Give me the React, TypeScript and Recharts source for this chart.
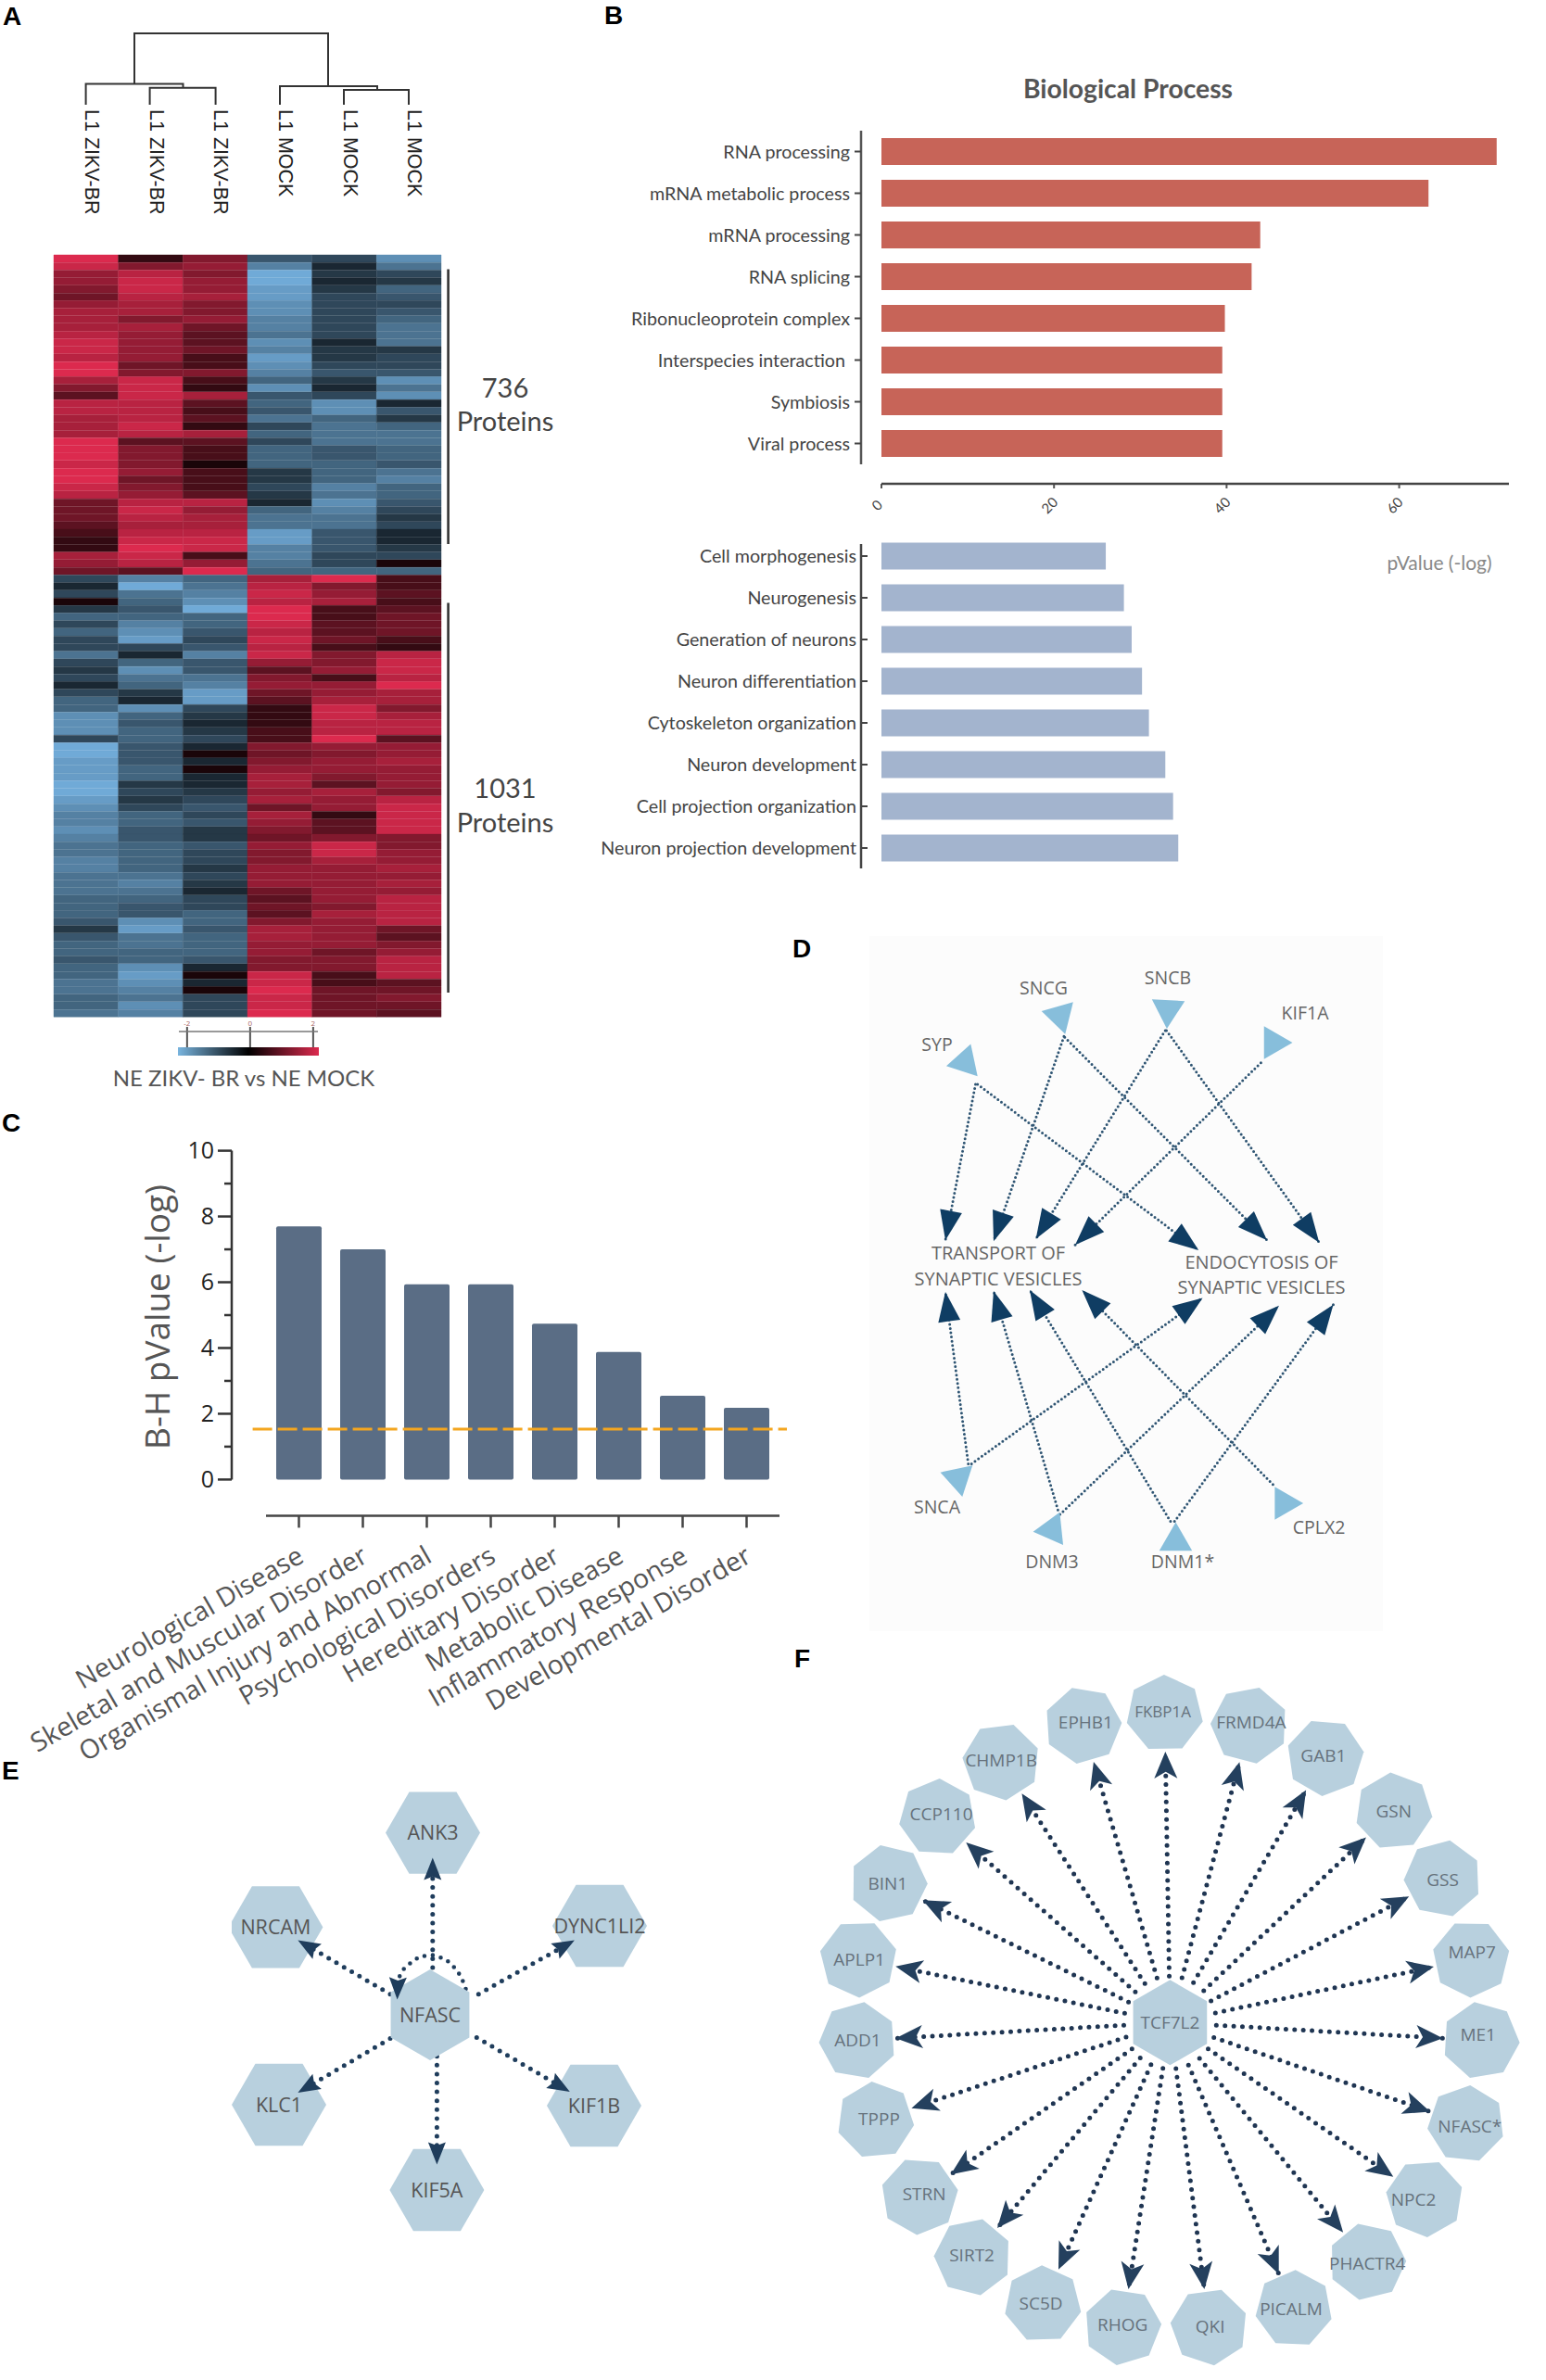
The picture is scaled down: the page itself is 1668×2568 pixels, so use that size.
import React from "react";
import {
  Bar,
  BarChart,
  Cell,
  ComposedChart,
  Line,
  ReferenceLine,
  Scatter,
  XAxis,
  YAxis,
} from "recharts";

const SANS = "'Open Sans', sans-serif";
const LATO = "Lato, sans-serif";
const ARIAL = "'Liberation Sans', Arial, sans-serif";

// panel A, one list per sample, top row first (-10 bright blue .. 10 bright red)
const zikv1 = [10,9,6,6,5,4,6,7,7,7,8,9,9,8,10,10,7,5,3,8,8,7,7,7,10,10,10,9,10,10,9,8,4,4,4,3,2,1,1,7,6,4,
  -3,-1,-3,0,-2,-5,-3,-5,-3,-3,-6,-3,-2,-3,-1,-3,-5,-5,-8,-8,-8,-3,-10,-10,-9,-9,-9,-10,-10,-9,-8,-7,-7,-8,-7,-6,-6,-7,-7,-6,-6,-6,-5,-5,-5,-4,-2,-4,-5,-5,-4,-5,-5,-6,-6,-5,-5,-6];
const zikv2 = [1,5,8,9,9,8,7,7,5,7,6,6,6,6,4,5,9,9,9,8,8,8,9,8,3,5,5,5,6,4,5,6,8,9,8,7,8,9,10,9,8,3,
  -7,-10,-6,-5,-4,-5,-7,-8,-9,-3,-1,-5,-8,-6,-5,-2,-1,-8,-5,-4,-5,-5,-4,-4,-4,-5,-5,-2,-3,-2,-3,-5,-5,-4,-4,-5,-5,-5,-5,-6,-7,-6,-5,-4,-4,-8,-9,-6,-6,-5,-5,-8,-9,-8,-7,-6,-8,-7];
const zikv3 = [5,6,5,6,6,7,5,5,6,4,3,3,4,2,2,5,2,1,7,3,2,3,1,7,3,2,2,0,2,2,2,3,8,6,7,7,8,9,9,2,6,10,
  -5,-6,-7,-8,-10,-5,-5,-4,-3,-4,-7,-4,-4,-6,-7,-9,-9,-3,-2,-1,-2,-3,-1,0,-1,0,-1,-1,-2,-3,-4,-3,-4,-2,-2,-4,-3,-3,-2,-3,-2,-1,-3,-3,-5,-5,-4,-5,-5,-5,-4,-1,0,-1,0,-3,-3,-3];
const mock1 = [-4,-7,-10,-10,-9,-9,-8,-8,-7,-7,-6,-8,-7,-9,-8,-7,-5,-8,-4,-5,-4,-6,-3,-5,-3,-5,-5,-5,-2,-2,-3,-2,-1,-5,-6,-6,-9,-9,-7,-7,-6,-5,
  7,8,9,8,10,10,9,8,9,8,9,6,3,5,6,4,3,1,1,1,2,2,5,4,5,6,7,7,6,7,4,7,6,5,4,6,5,5,6,6,6,4,3,4,3,5,7,7,6,6,5,5,9,9,10,9,9,10];
const mock2 = [-3,-1,-2,-1,-2,-3,-3,-3,-3,-3,-3,-1,-2,-2,-3,-4,-2,-1,-3,-8,-8,-5,-6,-6,-6,-4,-4,-5,-5,-5,-7,-6,-8,-7,-6,-6,-4,-4,-4,-3,-3,-5,
  10,5,6,7,2,2,3,3,4,2,5,5,6,2,6,6,7,9,9,8,8,10,6,5,6,6,5,3,7,6,6,1,3,3,5,9,9,7,6,6,6,6,6,5,7,6,6,6,6,4,5,5,2,2,4,4,4,4];
const mock3 = [-8,-6,-3,-2,-5,-4,-3,-4,-5,-6,-6,-6,-2,-3,-3,-4,-8,-6,-8,-1,-4,-2,-5,-6,-6,-5,-5,-4,-6,-7,-5,-5,-4,-3,-2,-3,-1,-1,-2,-3,0,-5,
  2,2,3,2,3,4,4,4,2,1,8,9,9,8,10,7,7,5,7,8,8,3,6,6,7,6,6,6,5,8,9,9,9,9,5,5,6,6,7,6,7,6,8,8,8,8,4,3,5,6,8,8,8,3,4,5,4,3];

const heatColumns = [zikv1, zikv2, zikv3, mock1, mock2, mock3];
const sampleLabels = ["L1 ZIKV-BR", "L1 ZIKV-BR", "L1 ZIKV-BR", "L1 MOCK", "L1 MOCK", "L1 MOCK"];
const sampleTicks = [0.5, 1.5, 2.5, 3.5, 4.5, 5.5];

// panel B
const upTerms = ["RNA processing", "mRNA metabolic process", "mRNA processing", "RNA splicing", "Ribonucleoprotein complex", "Interspecies interaction", "Symbiosis", "Viral process"];
const upValues = [71.3, 63.4, 43.9, 42.9, 39.8, 39.5, 39.5, 39.5];
const downTerms = ["Cell morphogenesis", "Neurogenesis", "Generation of neurons", "Neuron differentiation", "Cytoskeleton organization", "Neuron development", "Cell projection organization", "Neuron projection development"];
const downValues = [26, 28.1, 29, 30.2, 31, 32.9, 33.8, 34.4];
const pTicks = [0, 20, 40, 60];

// panel C
const diseases = ["Neurological Disease", "Skeletal and Muscular Disorder", "Organismal Injury and Abnormal", "Psychological Disorders", "Hereditary Disorder", "Metabolic Disease", "Inflammatory Response", "Developmental Disorder"];
const diseaseValues = [7.7, 7.0, 5.94, 5.94, 4.74, 3.88, 2.55, 2.18];
const bhTicks = [0, 1, 2, 3, 4, 5, 6, 7, 8, 9, 10];
const bhThreshold = 1.53;

// panel D, read in picture pixels
const dGenes = ["SNCG", "SNCB", "KIF1A", "SYP", "SNCA", "DNM3", "DNM1*", "CPLX2"];
const dGeneX = [1143.6, 1260, 1374, 1041, 1034, 1135, 1268.5, 1385.6];
const dGeneY = [1096, 1089.5, 1125, 1146, 1595, 1650.5, 1663, 1622];
const dGeneTurn = [74, 93, 0, 48, -42, -66, -90, 0];
const dLabelX = [1126, 1260, 1408, 1011, 1011, 1135, 1276, 1423];
const dLabelY = [1066, 1055, 1093, 1127, 1626, 1685, 1685, 1648];
const dEdges = [
  [1052.5, 1170, 1020, 1338.2], [1054.7, 1170, 1293.2, 1349],
  [1147.9, 1118.3, 1072, 1339.2], [1148.8, 1119.3, 1367, 1338.2],
  [1257.2, 1111.9, 1117.6, 1336.7], [1258.5, 1111.9, 1423.3, 1340.7],
  [1360.4, 1146.7, 1160, 1343.2], [1044.7, 1579.4, 1020, 1393.9],
  [1048.2, 1579.4, 1297.5, 1400.4], [1141.4, 1629.2, 1072, 1392.9],
  [1143.6, 1634.1, 1380, 1408.8], [1262.9, 1641.6, 1111, 1391.9],
  [1267.2, 1641.6, 1438.5, 1407.8], [1373.4, 1601.8, 1167.4, 1391.9],
];

// panel E
const eGenes = ["ANK3", "NRCAM", "DYNC1LI2", "KLC1", "KIF1B", "KIF5A"];
const eGeneX = [467, 297.4, 647, 301, 641, 471.4];
const eGeneY = [1977.6, 2079.4, 2078, 2271, 2272, 2363];
const eEdges = [
  [466.8, 2123, 466.8, 2004.4], [421, 2151.7, 321.4, 2093.5],
  [516.3, 2151.7, 619.9, 2093.5], [421, 2199.6, 321.4, 2258],
  [514.3, 2198.4, 614.8, 2257], [471.4, 2218.7, 471.4, 2335.4],
];
const eLoopX = [502.5, 498, 492.3, 481, 466.8, 453, 443.9, 436, 431.1, 429, 428.6];
const eLoopY = [2146, 2134, 2125, 2114, 2109.6, 2111, 2117.3, 2124, 2132.6, 2145, 2157.5];

// panel F
const fGenes = ["FKBP1A", "FRMD4A", "GAB1", "GSN", "GSS", "MAP7", "ME1", "NFASC*", "NPC2", "PHACTR4", "PICALM", "QKI", "RHOG", "SC5D", "SIRT2", "STRN", "TPPP", "ADD1", "APLP1", "BIN1", "CCP110", "CHMP1B", "EPHB1"];
const fGeneX = [1256.6, 1347.9, 1429.8, 1503.7, 1556.5, 1587.1, 1597.7, 1581.8, 1537, 1475.2, 1396, 1304.6, 1211.2, 1125.1, 1049.6, 992.1, 944.5, 925.5, 926.1, 958.8, 1011.6, 1080.2, 1168.4];
const fGeneY = [1848.9, 1861.6, 1896.2, 1954.3, 2027, 2113.6, 2201.6, 2291.7, 2372.1, 2440.4, 2491.3, 2510.6, 2510.6, 2486.2, 2435.3, 2369.6, 2287.7, 2201.6, 2113.6, 2032.1, 1960.9, 1900.8, 1861.6];
const fLabelDx = [-2, 2, -2, 0, 0, 1, -3, 4, -12, 0, -3, 1, 0, -2, -1, 5, 4, 0, 1, -1, 4, 0, 3];
const fLabelDy = [-2, -3, -2, 0, 1, -7, -6, 3, 1, 2, 0, 0, -2, -1, -2, -2, -1, 0, 1, 0, -4, -1, -3];
const fHubX = 1262.4;
const fHubY = 2182.3;

// straight rules of the figure, in picture pixels: one polyline per list, x then y
const treeRules = [
  [92.6, 113, 92.6, 90.6, 197.5, 90.6, 197.5, 94.7],
  [161.6, 113, 161.6, 94.7, 232.6, 94.7, 232.6, 113],
  [302, 113, 302, 93, 407, 93, 407, 97],
  [371, 113, 371, 97, 441, 97, 441, 113],
  [145, 90.6, 145, 36, 354, 36, 354, 93],
];
const bracketRules = [[483.6, 290.6, 483.6, 587], [483.6, 650.6, 483.6, 1071]];
const axisRules = [[951, 522, 1628, 522], [929, 587, 929, 937], [287, 1635.6, 841, 1635.6]];
const scaleRules = [[193, 1113, 343, 1113]];

const heatRows = zikv1.map((_, i) => ({ row: i, c0: 1, c1: 1, c2: 1, c3: 1, c4: 1, c5: 1 }));
const upData = upTerms.map((term, i) => ({ term, value: upValues[i] }));
const downData = downTerms.map((term, i) => ({ term, value: downValues[i] }));
const diseaseData = diseases.map((name, i) => ({ name, value: diseaseValues[i] }));

const heatColor = (v: number) => {
  const t = 0.12 + 0.88 * Math.pow(Math.abs(v) / 10, 0.9);
  const base = v < 0 ? [112, 170, 215] : [220, 42, 78];
  return `rgb(${base.map((c) => Math.round(c * t)).join(",")})`;
};

const polygon = (cx: number, cy: number, r: number, sides: number, startDeg: number) =>
  Array.from({ length: sides }, (_, i) => {
    const a = ((startDeg + (i * 360) / sides) * Math.PI) / 180;
    return `${cx + r * Math.cos(a)},${cy + r * Math.sin(a)}`;
  }).join(" ");

const toPoints = (seg: number[]) => {
  const pts = [];
  for (let i = 0; i < seg.length; i += 2) pts.push({ x: seg[i], y: seg[i + 1] });
  return pts;
};

const toTip = (seg: number[]) => ({
  x: seg[2],
  y: seg[3],
  angle: (Math.atan2(seg[3] - seg[1], seg[2] - seg[0]) * 180) / Math.PI,
});

const arrowShape = (len: number, wid: number, notch: number, fill: string) => (props: any) => {
  const { cx, cy, payload } = props;
  return (
    <polygon
      points={`0,0 ${-len},${-wid / 2} ${-len * notch},0 ${-len},${wid / 2}`}
      transform={`translate(${cx},${cy}) rotate(${payload.angle})`}
      fill={fill}
    />
  );
};

const nodeShape = (r: number, sides: number, startDeg: number, fontSize: number, color: string) => (props: any) => {
  const { cx, cy, payload } = props;
  const turn = payload.turn ?? startDeg;
  return (
    <g>
      <polygon points={polygon(cx, cy, r, sides, turn)} fill="#B8D0DE" />
      <text
        x={cx + (payload.dx ?? 0)}
        y={cy + (payload.dy ?? 0)}
        dy=".35em"
        textAnchor="middle"
        fontFamily={SANS}
        fontSize={payload.small ? fontSize - 2 : fontSize}
        fill={color}
      >
        {payload.name}
      </text>
    </g>
  );
};

const triangleShape = (props: any) => {
  const { cx, cy, payload } = props;
  return <polygon points={polygon(cx, cy, 20.5, 3, payload.turn)} fill="#87BEDB" />;
};

const renderRules = (rules: number[][], name: string, stroke: string, strokeWidth: number) =>
  rules.map((seg, i) => (
    <Line
      key={`${name}-${i}`}
      data={toPoints(seg)}
      dataKey="y"
      stroke={stroke}
      strokeWidth={strokeWidth}
      dot={false}
      activeDot={false}
      legendType="none"
      isAnimationActive={false}
    />
  ));

const renderDots = (edges: number[][], name: string, stroke: string, width: number, gap: number) =>
  edges.map((seg, i) => (
    <Line
      key={`${name}-${i}`}
      data={toPoints(seg)}
      dataKey="y"
      stroke={stroke}
      strokeWidth={width}
      strokeLinecap="round"
      strokeDasharray={`0 ${gap}`}
      dot={false}
      activeDot={false}
      isAnimationActive={false}
    />
  ));

// pixel-space chart box: x/y domains equal the picture region it covers
function Region({ x, y, w, h, background, children }: any) {
  return (
    <div style={{ position: "absolute", left: x, top: y, background }}>
      <ComposedChart width={w} height={h} margin={{ top: 0, right: 0, bottom: 0, left: 0 }}>
        <XAxis type="number" dataKey="x" domain={[x, x + w]} allowDataOverflow hide />
        <YAxis type="number" dataKey="y" domain={[y, y + h]} allowDataOverflow reversed hide />
        {children}
      </ComposedChart>
    </div>
  );
}

function Heatmap() {
  const sampleTick = ({ x, index }: any) => (
    <text
      transform={`translate(${x - 1},118) rotate(90)`}
      fontFamily={ARIAL}
      fontSize={21.5}
      fill="#222"
    >
      {sampleLabels[index]}
    </text>
  );
  return (
    <div style={{ position: "absolute", left: 0, top: 0 }}>
      <BarChart
        width={500}
        height={1110}
        data={heatRows}
        layout="vertical"
        barCategoryGap={0}
        margin={{ top: 105, right: 24, bottom: 12.5, left: 58 }}
      >
        <XAxis
          type="number"
          orientation="top"
          domain={[0, 6]}
          ticks={sampleTicks}
          interval={0}
          height={170}
          axisLine={false}
          tickLine={false}
          tickSize={0}
          tick={sampleTick}
        />
        <YAxis type="category" dataKey="row" hide />
        {heatColumns.map((col, c) => (
          <Bar key={c} dataKey={`c${c}`} stackId="heat" isAnimationActive={false}>
            {col.map((v, r) => (
              <Cell key={r} fill={heatColor(v)} stroke={heatColor(v)} strokeWidth={0.4} />
            ))}
          </Bar>
        ))}
      </BarChart>
    </div>
  );
}

function HeatScale() {
  return (
    <div style={{ position: "absolute", left: 150, top: 1090 }}>
      <BarChart
        width={240}
        height={60}
        data={[{ name: "scale", span: [-2.29, 2.18] }]}
        layout="vertical"
        barCategoryGap={0}
        margin={{ top: 0, right: 46, bottom: 11, left: 42 }}
      >
        <defs>
          <linearGradient id="heatScale" x1="0" y1="0" x2="1" y2="0">
            <stop offset="0%" stopColor="#78B4DE" />
            <stop offset="50%" stopColor="#000" />
            <stop offset="100%" stopColor="#DC2A4E" />
          </linearGradient>
        </defs>
        <XAxis
          type="number"
          orientation="top"
          domain={[-2.29, 2.18]}
          ticks={[-2, 0, 2]}
          height={40}
          axisLine={false}
          tickSize={22}
          tickMargin={1}
          tickLine={{ stroke: "#555", strokeWidth: 2 }}
          tick={{ fontSize: 8, fill: "#a66", fontFamily: SANS }}
        />
        <YAxis type="category" dataKey="name" hide />
        <Bar dataKey="span" fill="url(#heatScale)" isAnimationActive={false} />
      </BarChart>
    </div>
  );
}

const termTick = (side: "left" | "right") => ({ x, y, payload }: any) => {
  const nudge = payload.value === "Interspecies interaction" ? 5 : 0;
  return (
    <g>
      <line x1={x} y1={y} x2={side === "left" ? x - 7 : x + 7} y2={y} stroke="#444" strokeWidth={2} />
      <text
        x={(side === "left" ? x - 12 : x - 5) - nudge}
        y={y}
        dy=".36em"
        textAnchor="end"
        fontFamily={LATO}
        fontSize={19.7}
        fill="#444"
      >
        {payload.value}
      </text>
    </g>
  );
};

const pTick = ({ x, y, payload }: any) => (
  <g>
    <line x1={x} y1={y + 21} x2={x} y2={y + 26} stroke="#555" strokeWidth={2} />
    <text
      transform={`translate(${x - 1},${y + 48}) rotate(-45)`}
      textAnchor="middle"
      fontFamily={LATO}
      fontSize={15}
      fill="#444"
    >
      {payload.value}
    </text>
  </g>
);

function EnrichmentBars() {
  return (
    <>
      <div style={{ position: "absolute", left: 600, top: 120 }}>
        <BarChart
          width={1068}
          height={441}
          data={upData}
          layout="vertical"
          margin={{ top: 21, right: 40, bottom: 0, left: 29 }}
        >
          <XAxis
            type="number"
            domain={[-2.363, 72.72]}
            ticks={pTicks}
            interval={0}
            height={60}
            axisLine={false}
            tickLine={false}
            tickSize={0}
            tickMargin={0}
            tick={pTick}
          />
          <YAxis
            type="category"
            dataKey="term"
            width={300}
            interval={0}
            axisLine={{ stroke: "#555", strokeWidth: 2.5 }}
            tickLine={false}
            tickSize={0}
            tickMargin={0}
            tick={termTick("left")}
          />
          <Bar dataKey="value" fill="#C76458" barSize={29} isAnimationActive={false} />
        </BarChart>
      </div>
      <div style={{ position: "absolute", left: 600, top: 570 }}>
        <BarChart
          width={1068}
          height={380}
          data={downData}
          layout="vertical"
          margin={{ top: 7.5, right: 40, bottom: 12.5, left: 29 }}
        >
          <XAxis type="number" domain={[-2.363, 72.72]} hide />
          <YAxis
            type="category"
            dataKey="term"
            width={300}
            interval={0}
            axisLine={false}
            tickLine={false}
            tickSize={0}
            tickMargin={0}
            tick={termTick("right")}
          />
          <Bar dataKey="value" fill="#A3B4CE" barSize={29} isAnimationActive={false} />
        </BarChart>
      </div>
    </>
  );
}

const bhTick = ({ x, y, payload }: any) => {
  const major = payload.value % 2 === 0;
  return (
    <g>
      <line x1={x} y1={y} x2={x - (major ? 15 : 8)} y2={y} stroke="#333" strokeWidth={2.5} />
      {major && (
        <text x={x - 19} y={y} dy=".35em" textAnchor="end" fontFamily={SANS} fontSize={25} fill="#222">
          {payload.value}
        </text>
      )}
    </g>
  );
};

const diseaseTick = ({ x, y, payload }: any) => (
  <g>
    <line x1={x} y1={y + 39} x2={x} y2={y + 52} stroke="#444" strokeWidth={2.5} />
    <text
      transform={`translate(${x + 7},${y + 88}) rotate(-30)`}
      textAnchor="end"
      fontFamily={SANS}
      fontSize={28.5}
      fill="#555"
    >
      {payload.value}
    </text>
  </g>
);

const thresholdLine = (props: any) => (
  <line
    x1={props.x1 + 22.6}
    y1={props.y1}
    x2={props.x2}
    y2={props.y2}
    stroke="#F4A61F"
    strokeWidth={3}
    strokeDasharray="21 6"
  />
);

function DiseaseBars() {
  return (
    <div style={{ position: "absolute", left: 0, top: 1220 }}>
      <BarChart
        width={870}
        height={720}
        data={diseaseData}
        margin={{ top: 21.6, right: 21, bottom: 143.6, left: 150 }}
      >
        <XAxis
          dataKey="name"
          interval={0}
          height={200}
          padding={{ left: 38, right: 9 }}
          axisLine={false}
          tickLine={false}
          tickSize={0}
          tickMargin={0}
          tick={diseaseTick}
        />
        <YAxis
          type="number"
          domain={[0, 10]}
          ticks={bhTicks}
          interval={0}
          width={100}
          axisLine={{ stroke: "#333", strokeWidth: 2.5 }}
          tickLine={false}
          tickSize={0}
          tickMargin={0}
          tick={bhTick}
        />
        <Bar dataKey="value" fill="#5A6D85" barSize={49} radius={2} isAnimationActive={false} />
        <ReferenceLine y={bhThreshold} shape={thresholdLine} />
      </BarChart>
    </div>
  );
}

function SynapticNetwork() {
  const genes = dGenes.map((name, i) => ({ name, x: dGeneX[i], y: dGeneY[i], turn: dGeneTurn[i] }));
  return (
    <Region x={938} y={1010} w={554} h={750} background="#FCFCFC">
      {renderDots(dEdges, "d", "#2F5573", 3, 4.6)}
      <Scatter data={genes} shape={triangleShape} isAnimationActive={false} />
      <Scatter data={dEdges.map(toTip)} shape={arrowShape(32, 24, 1, "#0F3D63")} isAnimationActive={false} />
    </Region>
  );
}

function NfascNetwork() {
  const genes = eGenes.map((name, i) => ({ name, x: eGeneX[i], y: eGeneY[i] }));
  const loop = eLoopX.map((x, i) => ({ x, y: eLoopY[i] }));
  const loopTip = toTip([eLoopX[9], eLoopY[9], eLoopX[10], eLoopY[10]]);
  return (
    <Region x={250} y={1900} w={450} h={540}>
      <Scatter data={genes} shape={nodeShape(51, 6, 0, 21.5, "#555")} isAnimationActive={false} />
      <Scatter data={[{ name: "NFASC", x: 464, y: 2174 }]} shape={nodeShape(49, 6, 90, 21.5, "#555")} isAnimationActive={false} />
      {renderDots(eEdges, "e", "#1F3D5C", 5, 9.6)}
      <Line data={loop} dataKey="y" stroke="#1F3D5C" strokeWidth={4.6} strokeLinecap="round" strokeDasharray="0 9" dot={false} activeDot={false} isAnimationActive={false} />
      <Scatter data={[...eEdges.map(toTip), loopTip]} shape={arrowShape(24, 19, 0.85, "#1F3D5C")} isAnimationActive={false} />
    </Region>
  );
}

function HubNetwork() {
  const genes = fGenes.map((name, i) => ({
    name,
    x: fGeneX[i],
    y: fGeneY[i],
    dx: fLabelDx[i],
    dy: fLabelDy[i],
    small: name === "FKBP1A",
    turn: (Math.atan2(fGeneY[i] - fHubY, fGeneX[i] - fHubX) * 180) / Math.PI,
  }));
  const spokes = genes.map((g) => {
    const dx = g.x - fHubX;
    const dy = g.y - fHubY;
    const d = Math.hypot(dx, dy);
    return [fHubX + (dx / d) * 50, fHubY + (dy / d) * 50, g.x - (dx / d) * 41, g.y - (dy / d) * 41];
  });
  return (
    <Region x={860} y={1790} w={808} h={778}>
      <Scatter data={genes} shape={nodeShape(42, 7, 0, 19, "#66727C")} isAnimationActive={false} />
      <Scatter data={[{ name: "TCF7L2", x: fHubX, y: fHubY }]} shape={nodeShape(46, 6, 90, 19, "#66727C")} isAnimationActive={false} />
      {renderDots(spokes, "f", "#1F3552", 5, 9.4)}
      <Scatter data={spokes.map(toTip)} shape={arrowShape(29, 25, 0.75, "#24405E")} isAnimationActive={false} />
    </Region>
  );
}

function Rules() {
  return (
    <Region x={0} y={0} w={1668} h={1700}>
      {renderRules(treeRules, "tree", "#333", 2)}
      {renderRules(bracketRules, "bracket", "#333", 2.6)}
      {renderRules(axisRules, "axis", "#444", 2.5)}
      {renderRules(scaleRules, "scale", "#777", 1.5)}
    </Region>
  );
}

function PageText() {
  const label = (x: number, y: number, s: string, size: number, fill: string, family = LATO, weight = 400, anchor = "middle") => (
    <text key={`${s}-${x}-${y}`} x={x} y={y} dy=".35em" textAnchor={anchor as any} fontSize={size} fill={fill} fontFamily={family} fontWeight={weight}>
      {s}
    </text>
  );
  return (
    <svg width={1668} height={2568} style={{ position: "absolute", left: 0, top: 0, pointerEvents: "none" }}>
      {label(3, 17, "A", 28, "#000", ARIAL, 700, "start")}
      {label(652, 16, "B", 28, "#000", ARIAL, 700, "start")}
      {label(2, 1211, "C", 28, "#000", ARIAL, 700, "start")}
      {label(855, 1023, "D", 28, "#000", ARIAL, 700, "start")}
      {label(2, 1910, "E", 28, "#000", ARIAL, 700, "start")}
      {label(857, 1789, "F", 28, "#000", ARIAL, 700, "start")}
      {label(545, 419, "736", 29, "#444")}
      {label(545, 455, "Proteins", 29, "#444")}
      {label(545, 851, "1031", 29, "#444")}
      {label(545, 888, "Proteins", 29, "#444")}
      {label(263, 1164, "NE ZIKV- BR vs NE MOCK", 24, "#555")}
      {label(1217, 96, "Biological Process", 28.3, "#555", LATO, 700)}
      {label(1553, 608, "pValue (-log)", 21, "#888")}
      <text transform="translate(170,1421) rotate(-90)" dy=".35em" textAnchor="middle" fontFamily={SANS} fontSize={37} fill="#555">
        B-H pValue (-log)
      </text>
      {dGenes.map((g, i) => label(dLabelX[i], dLabelY[i], g, 19.5, "#666", SANS))}
      {label(1077, 1352, "TRANSPORT OF", 20, "#666", SANS)}
      {label(1077, 1379.5, "SYNAPTIC VESICLES", 20, "#666", SANS)}
      {label(1361, 1362, "ENDOCYTOSIS  OF", 20, "#666", SANS)}
      {label(1361, 1389, "SYNAPTIC VESICLES", 20, "#666", SANS)}
    </svg>
  );
}

export default function App() {
  return (
    <div style={{ position: "absolute", left: 0, top: 0, width: 1668, height: 2568, background: "#fff", overflow: "hidden" }}>
      <SynapticNetwork />
      <NfascNetwork />
      <HubNetwork />
      <Heatmap />
      <HeatScale />
      <EnrichmentBars />
      <DiseaseBars />
      <Rules />
      <PageText />
    </div>
  );
}
